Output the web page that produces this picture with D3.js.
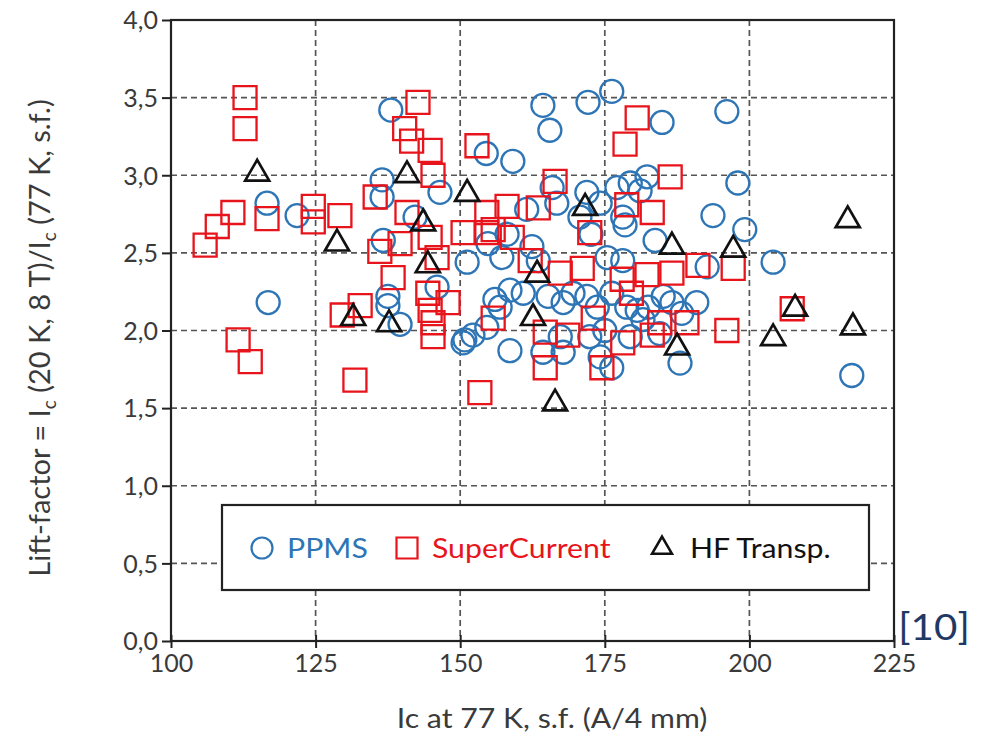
<!DOCTYPE html>
<html>
<head>
<meta charset="utf-8">
<script src="https://cdn.jsdelivr.net/npm/d3@7"></script>
<style>
  html, body { margin: 0; padding: 0; background: #fff; }
  svg { display: block; }
</style>
</head>
<body>
<svg id="chart" width="997" height="746"></svg>
<script>
// ---------- data ----------
const xTicks = [100, 125, 150, 175, 200, 225];
const yTicks = [0, 0.5, 1, 1.5, 2, 2.5, 3, 3.5, 4];
const seriesNames = ["PPMS", "SuperCurrent", "HF Transp."];

const ppms = [
  [116.6,2.82],[121.8,2.74],[116.8,2.18],[138.0,3.42],[136.5,2.97],[136.5,2.86],
  [136.7,2.58],[137.5,2.22],[137.5,2.16],[139.6,2.04],[142.2,2.73],[146.5,2.89],
  [146.0,2.28],[151.2,2.44],[150.5,1.92],[152.2,1.97],[154.6,2.02],[156.0,2.20],
  [154.8,2.56],[154.5,3.14],[159.1,3.09],[164.3,3.45],[165.5,3.29],[172.1,3.47],
  [176.2,3.54],[165.9,2.92],[166.7,2.82],[161.5,2.78],[171.9,2.89],[174.2,2.82],
  [170.7,2.73],[172.6,2.62],[177.1,2.92],[179.4,2.95],[178.1,2.73],[158.1,2.62],
  [157.2,2.47],[162.4,2.54],[163.5,2.45],[158.6,2.26],[156.9,2.15],[160.9,2.24],
  [165.2,2.22],[167.8,2.18],[169.5,2.24],[171.9,2.22],[173.7,2.15],[176.2,2.24],
  [178.8,2.15],[180.6,2.13],[158.6,1.87],[164.3,1.86],[167.3,1.96],[172.4,1.96],
  [174.2,1.83],[176.2,1.76],[175.0,2.00],[179.4,1.96],[178.1,2.45],[175.4,2.47],
  [184.9,3.34],[196.1,3.41],[182.3,2.99],[198.0,2.95],[193.7,2.74],[199.2,2.65],
  [183.7,2.58],[204.1,2.44],[181.1,2.90],[178.5,2.68],[192.7,2.41],[190.9,2.18],
  [188.3,2.11],[185.1,2.22],[182.5,2.15],[181.6,2.07],[188.0,1.79],[217.7,1.71],
  [186.6,2.18],[184.5,1.98],[150.8,1.94],[167.8,1.86]
];

const superCurrent = [
  [112.8,3.50],[112.8,3.30],[105.9,2.55],[108.0,2.67],[110.7,2.76],[116.6,2.72],
  [111.6,1.94],[113.7,1.80],[124.6,2.80],[124.6,2.70],[129.2,2.74],[129.6,2.10],
  [132.7,2.16],[131.8,1.68],[135.3,2.86],[136.1,2.51],[138.4,2.34],[139.6,2.56],
  [140.8,2.76],[142.7,3.47],[140.4,3.30],[141.6,3.22],[144.8,3.16],[145.3,3.00],
  [144.8,2.60],[150.5,2.63],[154.6,2.76],[154.6,2.63],[146.0,2.47],[144.4,2.24],
  [147.9,2.18],[144.8,2.13],[145.3,2.05],[145.3,1.96],[155.7,2.08],[153.4,1.60],
  [152.9,3.19],[166.4,2.96],[158.1,2.80],[163.5,2.79],[155.7,2.65],[159.0,2.60],
  [162.1,2.45],[167.3,2.37],[171.1,2.40],[172.4,2.63],[178.8,2.81],[178.0,2.33],
  [179.6,2.24],[164.7,1.99],[168.6,1.97],[173.0,2.08],[178.1,1.92],[164.7,1.76],
  [174.5,1.76],[178.5,3.20],[180.6,3.37],[183.2,2.76],[186.3,2.99],[191.1,2.42],
  [197.2,2.40],[186.6,2.37],[182.3,2.36],[184.5,2.05],[189.2,2.05],[196.1,2.00],
  [183.2,1.97],[207.4,2.14]
];

const hfTransp = [
  [114.9,3.01],[128.7,2.56],[131.5,2.08],[137.7,2.04],[140.8,3.00],[143.6,2.69],
  [144.4,2.42],[151.2,2.88],[163.3,2.36],[162.6,2.08],[166.4,1.53],[171.6,2.79],
  [186.6,2.54],[187.5,1.89],[197.2,2.52],[204.1,1.95],[207.9,2.14],[217.0,2.71],
  [217.9,2.02]
];

// ---------- drawing ----------
const svg = d3.select("#chart");
const pLeft = 171, pRight = 894, pTop = 20, pBottom = 641;
const x = d3.scaleLinear().domain([100, 225]).range([pLeft, pRight]);
const y = d3.scaleLinear().domain([0, 4]).range([pBottom, pTop]);

const blue = "#2e75b6", red = "#e8141c", black = "#111";
const font = "Lato, 'Open Sans', sans-serif";
const textColor = "#3a3a3a";

// gridlines
const grid = svg.append("g");
grid.selectAll("line.gy").data(yTicks.filter(d => d > 0 && d < 4)).join("line")
  .attr("class", "gy")
  .attr("x1", pLeft).attr("x2", pRight)
  .attr("y1", d => y(d)).attr("y2", d => y(d))
  .attr("stroke", "#555").attr("stroke-width", 1.7).attr("stroke-dasharray", "6,4");
grid.selectAll("line.gx").data(xTicks.filter(d => d > 100 && d < 225)).join("line")
  .attr("class", "gx")
  .attr("x1", d => x(d)).attr("x2", d => x(d))
  .attr("y1", pTop).attr("y2", pBottom)
  .attr("stroke", "#555").attr("stroke-width", 1.7).attr("stroke-dasharray", "6,4");

// markers
const marks = svg.append("g");
marks.selectAll("circle").data(ppms).join("circle")
  .attr("cx", d => x(d[0])).attr("cy", d => y(d[1])).attr("r", 11.5)
  .attr("fill", "none").attr("stroke", blue).attr("stroke-width", 2.3);

const sq = d3.symbol().type(d3.symbolSquare).size(23 * 23);
marks.selectAll("path.sq").data(superCurrent).join("path")
  .attr("class", "sq")
  .attr("d", sq)
  .attr("transform", d => `translate(${x(d[0])},${y(d[1])})`)
  .attr("fill", "none").attr("stroke", red).attr("stroke-width", 2.3);

const tri = d3.symbol().type(d3.symbolTriangle).size(250);
marks.selectAll("path.tri").data(hfTransp).join("path")
  .attr("class", "tri")
  .attr("d", tri)
  .attr("transform", d => `translate(${x(d[0])},${y(d[1])})`)
  .attr("fill", "none").attr("stroke", black).attr("stroke-width", 2.7)
  .attr("stroke-linejoin", "miter");

// axes frame
const axisColor = "#222";
svg.append("rect").attr("x", pLeft).attr("y", pTop)
  .attr("width", pRight - pLeft).attr("height", pBottom - pTop)
  .attr("fill", "none").attr("stroke", axisColor).attr("stroke-width", 2.2);

// y ticks
const yAxis = d3.axisLeft(y).tickValues(yTicks).tickSize(9)
  .tickFormat(d => d3.format(".1f")(d).replace(".", ","));
const gy = svg.append("g").attr("transform", `translate(${pLeft},0)`).call(yAxis);
gy.select(".domain").remove();
gy.selectAll(".tick line").attr("stroke", axisColor).attr("stroke-width", 2).attr("x2", -9);
gy.selectAll(".tick text").attr("x", -13).attr("font-family", font).attr("font-size", 25)
  .attr("fill", textColor).attr("dy", "0.35em");

// x ticks
const xAxis = d3.axisBottom(x).tickValues(xTicks).tickSize(7).tickFormat(d3.format("d"));
const gx = svg.append("g").attr("transform", `translate(0,${pBottom})`).call(xAxis);
gx.select(".domain").remove();
gx.selectAll(".tick line").attr("stroke", axisColor).attr("stroke-width", 2).attr("y1", -6).attr("y2", 7);
gx.selectAll(".tick text").attr("y", 13).attr("font-family", font).attr("font-size", 25)
  .attr("fill", textColor);

// axis titles
svg.append("text").attr("transform", "translate(552,728) scale(1.12,1)")
  .attr("text-anchor", "middle")
  .attr("font-family", font).attr("font-size", 27).attr("fill", textColor)
  .text("Ic at 77 K, s.f. (A/4 mm)");

const yt = svg.append("text")
  .attr("transform", `translate(50,338) rotate(-90)`)
  .attr("text-anchor", "middle").attr("font-family", font).attr("font-size", 29).attr("fill", textColor);
yt.append("tspan").text("Lift-factor = I");
yt.append("tspan").attr("font-size", 19).attr("dy", 6).text("c");
yt.append("tspan").attr("dy", -6).text(" (20 K, 8 T)/I");
yt.append("tspan").attr("font-size", 19).attr("dy", 6).text("c");
yt.append("tspan").attr("dy", -6).text(" (77 K, s.f.)");

// legend
const lg = svg.append("g");
lg.append("rect").attr("x", 222).attr("y", 505).attr("width", 647).attr("height", 85)
  .attr("fill", "#fff").attr("stroke", axisColor).attr("stroke-width", 2.2);
const legendItems = [
  {name: seriesNames[0], color: blue, type: "circle", mx: 262, tx: 287},
  {name: seriesNames[1], color: red, type: "square", mx: 407, tx: 432},
  {name: seriesNames[2], color: black, type: "triangle", mx: 662, tx: 690}
];
const ly = 548;
legendItems.forEach(it => {
  if (it.type === "circle") {
    lg.append("circle").attr("cx", it.mx).attr("cy", ly).attr("r", 10.5)
      .attr("fill", "none").attr("stroke", it.color).attr("stroke-width", 2.2);
  } else if (it.type === "square") {
    lg.append("path").attr("d", d3.symbol().type(d3.symbolSquare).size(21 * 21))
      .attr("transform", `translate(${it.mx},${ly})`)
      .attr("fill", "none").attr("stroke", it.color).attr("stroke-width", 2.2);
  } else {
    lg.append("path").attr("d", d3.symbol().type(d3.symbolTriangle).size(170))
      .attr("transform", `translate(${it.mx},${ly})`)
      .attr("fill", "none").attr("stroke", it.color).attr("stroke-width", 2.6);
  }
  lg.append("text").attr("transform", `translate(${it.tx},${ly}) scale(1.12,1)`)
    .attr("dy", "0.36em")
    .attr("font-family", font).attr("font-size", 27).attr("fill", it.color)
    .text(it.name);
});

// reference label
svg.append("text").attr("transform", "translate(934,640) scale(1.12,1)")
  .attr("text-anchor", "middle")
  .attr("font-family", font).attr("font-weight", 400).attr("font-size", 36).attr("fill", "#1f3864")
  .text("[10]");
</script>
</body>
</html>
